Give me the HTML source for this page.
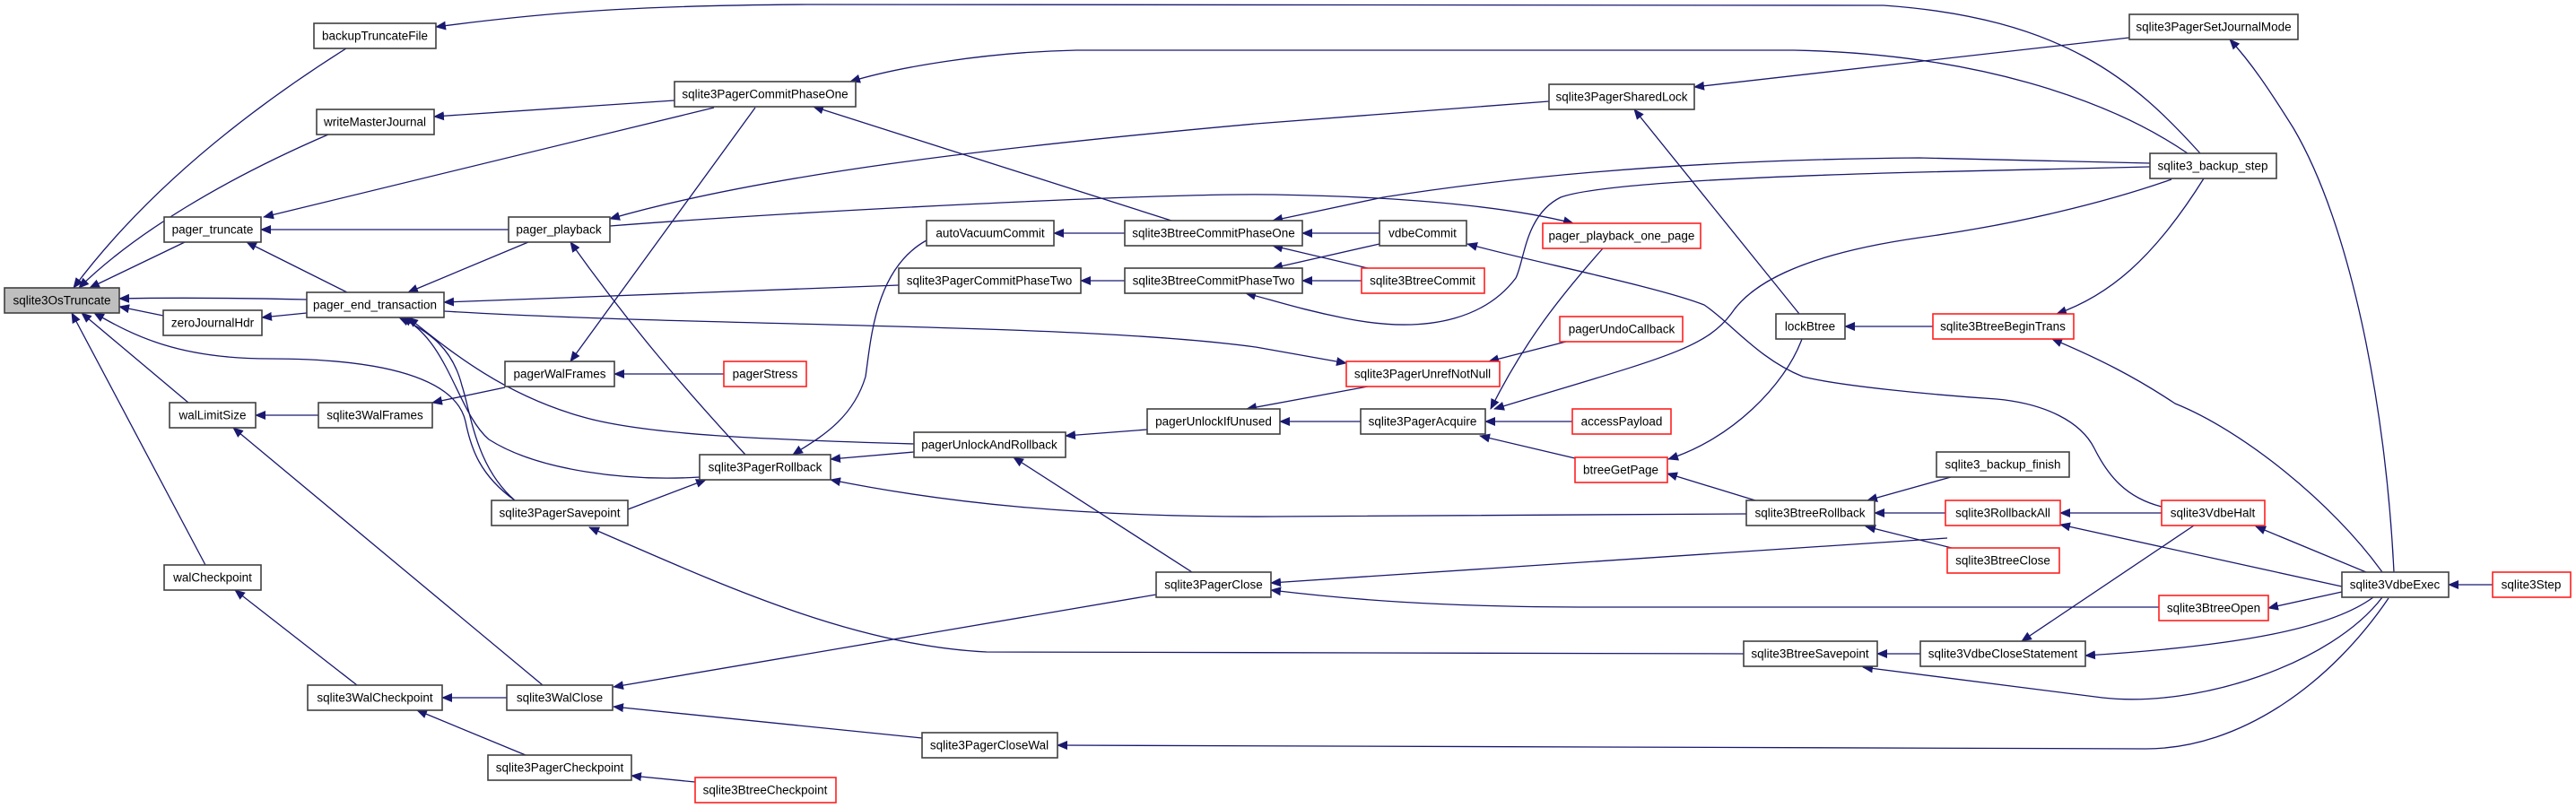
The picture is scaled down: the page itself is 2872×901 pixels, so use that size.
<!DOCTYPE html>
<html><head><meta charset="utf-8"><style>
html,body{margin:0;padding:0;background:#fff;}
svg{display:block;}
text{font-family:"Liberation Sans",sans-serif;font-size:13.5px;fill:#000;text-anchor:middle;dominant-baseline:central;}
.n{fill:#fff;stroke:#404040;stroke-width:1.6;}
.r{fill:#fff;stroke:#ff2020;stroke-width:1.6;}
.g{fill:#bfbfbf;stroke:#404040;stroke-width:1.6;}
.e{fill:none;stroke:#191970;stroke-width:1.3;marker-end:url(#a);}
</style></head><body>
<svg width="2872" height="901" viewBox="0 0 2872 901" xmlns="http://www.w3.org/2000/svg">
<defs><marker id="a" markerWidth="12" markerHeight="10" refX="11" refY="5" orient="auto" markerUnits="userSpaceOnUse"><path d="M0,0 L12,5 L0,10z" fill="#191970"/></marker></defs>
<g>
<path class="e" d="M386,54 C250,140 150,230 82,321"/>
<path class="e" d="M366,150 C250,200 150,260 88,321"/>
<path class="e" d="M206,270 L100,321"/>
<path class="e" d="M342,334 C250,332 180,332 133,333"/>
<path class="e" d="M182,352 L133,342"/>
<path class="e" d="M574,558 C535,530 525,500 519,470 C510,430 450,400 300,400 C200,400 150,375 105,349"/>
<path class="e" d="M210,449 L91,349"/>
<path class="e" d="M229,630 L80,349"/>
<path class="e" d="M567,256 L291,256"/>
<path class="e" d="M387,326 L275,270"/>
<path class="e" d="M796,120 L294,242"/>
<path class="e" d="M589,270 L455,326"/>
<path class="e" d="M342,349 L292,354"/>
<path class="e" d="M752,112 L484,130"/>
<path class="e" d="M2453,171 C2380,90 2300,20 2100,6 L900,5 C700,6 600,15 486,30"/>
<path class="e" d="M2439,171 C2350,110 2200,60 2000,56 L1200,56 C1100,58 1000,75 948,91"/>
<path class="e" d="M1306,246 L907,119"/>
<path class="e" d="M842,120 L636,403"/>
<path class="e" d="M1727,113 L1400,138 C1100,165 850,195 680,244"/>
<path class="e" d="M680,252 C900,235 1300,215 1420,217 C1600,220 1700,235 1754,249"/>
<path class="e" d="M831,507 C760,430 700,360 636,270"/>
<path class="e" d="M1002,318 L495,337"/>
<path class="e" d="M495,347 C800,365 1200,360 1400,387 L1501,405"/>
<path class="e" d="M1019,495 C850,490 720,485 650,465 C560,440 500,390 455,354"/>
<path class="e" d="M780,532 C700,537 600,525 545,490 C510,460 500,380 448,354"/>
<path class="e" d="M574,558 C530,520 525,460 515,430 C505,390 480,370 445,354"/>
<path class="e" d="M1254,313 L1205,313"/>
<path class="e" d="M1254,260 L1175,260"/>
<path class="e" d="M1033,268 C975,300 971,380 965,420 C950,470 910,490 884,507"/>
<path class="e" d="M1019,504 L926,512"/>
<path class="e" d="M1947,573 L1420,576 C1200,577 1050,560 926,535"/>
<path class="e" d="M700,568 L787,535"/>
<path class="e" d="M1279,479 L1188,486"/>
<path class="e" d="M1329,638 L1130,510"/>
<path class="e" d="M1944,729 L1100,727 C950,720 800,650 657,588"/>
<path class="e" d="M1289,663 L684,766"/>
<path class="e" d="M1028,823 L684,788"/>
<path class="e" d="M565,778 L493,778"/>
<path class="e" d="M586,842 L465,792"/>
<path class="e" d="M398,764 L262,658"/>
<path class="e" d="M355,463 L285,463"/>
<path class="e" d="M605,764 L260,477"/>
<path class="e" d="M775,872 L704,865"/>
<path class="e" d="M2171,600 L1417,650"/>
<path class="e" d="M2407,677 L1777,677 C1600,677 1500,668 1417,658"/>
<path class="e" d="M2663,667 C2600,760 2500,835 2392,835 L1179,831"/>
<path class="e" d="M1538,260 L1452,260"/>
<path class="e" d="M1525,299 L1419,274"/>
<path class="e" d="M1538,272 L1419,299"/>
<path class="e" d="M1518,313 L1452,313"/>
<path class="e" d="M2397,182 L2140,176 C1900,178 1700,195 1542,220 L1419,246"/>
<path class="e" d="M2397,186 L2140,192 C1950,197 1780,205 1740,220 C1700,240 1700,290 1690,310 C1660,350 1600,375 1500,355 C1450,345 1420,335 1389,327"/>
<path class="e" d="M1787,277 C1740,330 1700,380 1662,456"/>
<path class="e" d="M2421,200 C2350,225 2250,250 2140,265 C2000,285 1950,320 1930,350 C1900,390 1850,400 1666,456"/>
<path class="e" d="M1746,381 L1660,403"/>
<path class="e" d="M1525,431 L1390,456"/>
<path class="e" d="M1517,470 L1427,470"/>
<path class="e" d="M1753,470 L1656,470"/>
<path class="e" d="M1756,511 L1650,486"/>
<path class="e" d="M2006,350 L1822,122"/>
<path class="e" d="M2374,42 L1889,97"/>
<path class="e" d="M2009,378 C1990,430 1930,490 1860,512"/>
<path class="e" d="M1957,558 L1859,528"/>
<path class="e" d="M2155,364 L2057,364"/>
<path class="e" d="M2457,199 C2400,290 2350,330 2293,350"/>
<path class="e" d="M2656,638 C2600,560 2500,480 2425,450 C2380,420 2340,400 2288,378"/>
<path class="e" d="M2669,638 C2660,450 2620,250 2557,143 C2530,100 2510,70 2486,44"/>
<path class="e" d="M2410,565 C2370,555 2350,530 2335,500 C2320,470 2280,450 2226,445 C2150,440 2050,430 2010,420 C1960,400 1930,360 1900,340 C1850,320 1700,290 1636,272"/>
<path class="e" d="M2175,532 L2082,558"/>
<path class="e" d="M2169,572 L2090,572"/>
<path class="e" d="M2176,611 L2080,587"/>
<path class="e" d="M2410,572 L2297,572"/>
<path class="e" d="M2611,654 L2297,585"/>
<path class="e" d="M2638,638 L2515,587"/>
<path class="e" d="M2446,586 L2254,715"/>
<path class="e" d="M2611,660 L2529,678"/>
<path class="e" d="M2779,652 L2730,652"/>
<path class="e" d="M2646,666 C2600,700 2500,720 2325,731"/>
<path class="e" d="M2656,666 C2600,740 2450,790 2344,778 L2077,744"/>
<path class="e" d="M2141,729 L2093,729"/>
<path class="e" d="M807,417 L685,417"/>
<path class="e" d="M563,432 L482,449"/>
</g>
<g>
<rect class="g" x="5" y="321" width="128" height="28"/><text x="69" y="335">sqlite3OsTruncate</text>
<rect class="n" x="350" y="26" width="136" height="28"/><text x="418" y="40">backupTruncateFile</text>
<rect class="n" x="353" y="122" width="131" height="28"/><text x="418" y="136">writeMasterJournal</text>
<rect class="n" x="183" y="242" width="108" height="28"/><text x="237" y="256">pager_truncate</text>
<rect class="n" x="567" y="242" width="113" height="28"/><text x="623" y="256">pager_playback</text>
<rect class="n" x="342" y="326" width="153" height="28"/><text x="418" y="340">pager_end_transaction</text>
<rect class="n" x="182" y="346" width="110" height="28"/><text x="237" y="360">zeroJournalHdr</text>
<rect class="n" x="563" y="403" width="122" height="28"/><text x="624" y="417">pagerWalFrames</text>
<rect class="n" x="189" y="449" width="96" height="28"/><text x="237" y="463">walLimitSize</text>
<rect class="n" x="355" y="449" width="127" height="28"/><text x="418" y="463">sqlite3WalFrames</text>
<rect class="n" x="548" y="558" width="152" height="28"/><text x="624" y="572">sqlite3PagerSavepoint</text>
<rect class="n" x="183" y="630" width="108" height="28"/><text x="237" y="644">walCheckpoint</text>
<rect class="n" x="343" y="764" width="150" height="28"/><text x="418" y="778">sqlite3WalCheckpoint</text>
<rect class="n" x="565" y="764" width="118" height="28"/><text x="624" y="778">sqlite3WalClose</text>
<rect class="n" x="544" y="842" width="160" height="28"/><text x="624" y="856">sqlite3PagerCheckpoint</text>
<rect class="n" x="752" y="91" width="202" height="28"/><text x="853" y="105">sqlite3PagerCommitPhaseOne</text>
<rect class="n" x="1033" y="246" width="142" height="28"/><text x="1104" y="260">autoVacuumCommit</text>
<rect class="n" x="1254" y="246" width="198" height="28"/><text x="1353" y="260">sqlite3BtreeCommitPhaseOne</text>
<rect class="n" x="1002" y="299" width="203" height="28"/><text x="1103" y="313">sqlite3PagerCommitPhaseTwo</text>
<rect class="n" x="1254" y="299" width="198" height="28"/><text x="1353" y="313">sqlite3BtreeCommitPhaseTwo</text>
<rect class="r" x="807" y="403" width="92" height="28"/><text x="853" y="417">pagerStress</text>
<rect class="n" x="1279" y="456" width="148" height="28"/><text x="1353" y="470">pagerUnlockIfUnused</text>
<rect class="n" x="1019" y="482" width="169" height="28"/><text x="1103" y="496">pagerUnlockAndRollback</text>
<rect class="n" x="780" y="507" width="146" height="28"/><text x="853" y="521">sqlite3PagerRollback</text>
<rect class="n" x="1289" y="638" width="128" height="28"/><text x="1353" y="652">sqlite3PagerClose</text>
<rect class="n" x="1028" y="817" width="151" height="28"/><text x="1103" y="831">sqlite3PagerCloseWal</text>
<rect class="r" x="775" y="867" width="157" height="28"/><text x="853" y="881">sqlite3BtreeCheckpoint</text>
<rect class="n" x="1727" y="94" width="162" height="28"/><text x="1808" y="108">sqlite3PagerSharedLock</text>
<rect class="n" x="1538" y="246" width="97" height="28"/><text x="1586" y="260">vdbeCommit</text>
<rect class="r" x="1720" y="249" width="176" height="28"/><text x="1808" y="263">pager_playback_one_page</text>
<rect class="r" x="1518" y="299" width="137" height="28"/><text x="1586" y="313">sqlite3BtreeCommit</text>
<rect class="r" x="1739" y="353" width="137" height="28"/><text x="1808" y="367">pagerUndoCallback</text>
<rect class="n" x="1980" y="350" width="77" height="28"/><text x="2018" y="364">lockBtree</text>
<rect class="r" x="1501" y="403" width="171" height="28"/><text x="1586" y="417">sqlite3PagerUnrefNotNull</text>
<rect class="n" x="1517" y="456" width="139" height="28"/><text x="1586" y="470">sqlite3PagerAcquire</text>
<rect class="r" x="1753" y="456" width="110" height="28"/><text x="1808" y="470">accessPayload</text>
<rect class="r" x="1756" y="510" width="103" height="28"/><text x="1807" y="524">btreeGetPage</text>
<rect class="n" x="1947" y="558" width="143" height="28"/><text x="2018" y="572">sqlite3BtreeRollback</text>
<rect class="n" x="1944" y="715" width="149" height="28"/><text x="2018" y="729">sqlite3BtreeSavepoint</text>
<rect class="n" x="2374" y="16" width="188" height="28"/><text x="2468" y="30">sqlite3PagerSetJournalMode</text>
<rect class="n" x="2397" y="171" width="141" height="28"/><text x="2467" y="185">sqlite3_backup_step</text>
<rect class="r" x="2155" y="350" width="157" height="28"/><text x="2233" y="364">sqlite3BtreeBeginTrans</text>
<rect class="n" x="2159" y="504" width="148" height="28"/><text x="2233" y="518">sqlite3_backup_finish</text>
<rect class="r" x="2169" y="558" width="128" height="28"/><text x="2233" y="572">sqlite3RollbackAll</text>
<rect class="r" x="2410" y="558" width="115" height="28"/><text x="2467" y="572">sqlite3VdbeHalt</text>
<rect class="r" x="2171" y="611" width="125" height="28"/><text x="2233" y="625">sqlite3BtreeClose</text>
<rect class="n" x="2611" y="638" width="119" height="28"/><text x="2670" y="652">sqlite3VdbeExec</text>
<rect class="r" x="2779" y="638" width="87" height="28"/><text x="2822" y="652">sqlite3Step</text>
<rect class="r" x="2407" y="664" width="122" height="28"/><text x="2468" y="678">sqlite3BtreeOpen</text>
<rect class="n" x="2141" y="715" width="184" height="28"/><text x="2233" y="729">sqlite3VdbeCloseStatement</text>
</g>
</svg>
</body></html>
